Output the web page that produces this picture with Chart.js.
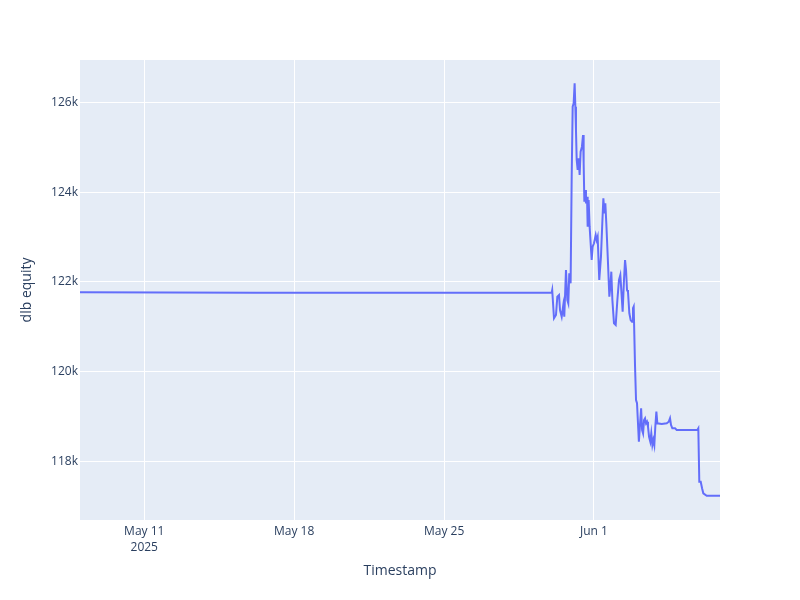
<!DOCTYPE html>
<html>
<head>
<meta charset="utf-8">
<script src="https://cdn.jsdelivr.net/npm/chart.js@4.4.1/dist/chart.umd.min.js"></script>
<style>
  html, body { margin: 0; padding: 0; background: #fff; }
  #wrap { width: 800px; height: 600px; }
</style>
</head>
<body>
<div id="wrap"><canvas id="c" width="800" height="600"></canvas></div>
<script>
// ---- data ----
const timestamps = [
  "2025-05-08T00:00Z", "2025-05-16T05:18Z", "2025-05-30T00:33Z", "2025-05-30T01:10Z",
  "2025-05-30T03:10Z", "2025-05-30T05:24Z", "2025-05-30T06:54Z", "2025-05-30T08:48Z",
  "2025-05-30T09:54Z", "2025-05-30T11:48Z", "2025-05-30T13:36Z", "2025-05-30T14:42Z",
  "2025-05-30T16:36Z", "2025-05-30T18:06Z", "2025-05-30T19:12Z", "2025-05-30T20:18Z",
  "2025-05-30T21:48Z", "2025-05-30T23:00Z", "2025-05-31T00:06Z", "2025-05-31T01:12Z",
  "2025-05-31T02:18Z", "2025-05-31T03:06Z", "2025-05-31T03:48Z", "2025-05-31T04:36Z",
  "2025-05-31T05:42Z", "2025-05-31T06:48Z", "2025-05-31T07:54Z", "2025-05-31T09:00Z",
  "2025-05-31T10:30Z", "2025-05-31T11:42Z", "2025-05-31T12:24Z", "2025-05-31T13:12Z",
  "2025-05-31T14:18Z", "2025-05-31T15:00Z", "2025-05-31T16:12Z", "2025-05-31T16:54Z",
  "2025-05-31T18:00Z", "2025-05-31T19:06Z", "2025-05-31T21:24Z", "2025-05-31T22:30Z",
  "2025-06-01T00:00Z", "2025-06-01T01:54Z", "2025-06-01T03:00Z", "2025-06-01T04:06Z",
  "2025-06-01T05:54Z", "2025-06-01T07:48Z", "2025-06-01T09:18Z", "2025-06-01T10:30Z",
  "2025-06-01T11:36Z", "2025-06-01T12:42Z", "2025-06-01T13:48Z", "2025-06-01T15:24Z",
  "2025-06-01T17:12Z", "2025-06-01T18:18Z", "2025-06-01T19:24Z", "2025-06-01T20:36Z",
  "2025-06-01T22:24Z", "2025-06-02T00:18Z", "2025-06-02T02:12Z", "2025-06-02T04:00Z",
  "2025-06-02T05:30Z", "2025-06-02T06:36Z", "2025-06-02T08:06Z", "2025-06-02T09:36Z",
  "2025-06-02T10:48Z", "2025-06-02T11:54Z", "2025-06-02T13:00Z", "2025-06-02T14:06Z",
  "2025-06-02T15:36Z", "2025-06-02T17:06Z", "2025-06-02T18:36Z", "2025-06-02T19:42Z",
  "2025-06-02T20:30Z", "2025-06-02T22:00Z", "2025-06-02T23:06Z", "2025-06-03T00:12Z",
  "2025-06-03T02:18Z", "2025-06-03T03:24Z", "2025-06-03T04:48Z", "2025-06-03T05:54Z",
  "2025-06-03T07:00Z", "2025-06-03T08:06Z", "2025-06-03T09:12Z", "2025-06-03T10:18Z",
  "2025-06-03T11:24Z", "2025-06-03T12:30Z", "2025-06-03T13:42Z", "2025-06-03T15:06Z",
  "2025-06-03T16:12Z", "2025-06-03T17:24Z", "2025-06-03T18:30Z", "2025-06-03T19:36Z",
  "2025-06-03T20:42Z", "2025-06-03T21:54Z", "2025-06-03T23:00Z", "2025-06-04T03:54Z",
  "2025-06-04T09:30Z", "2025-06-04T11:48Z", "2025-06-04T13:12Z", "2025-06-04T14:18Z",
  "2025-06-04T15:48Z", "2025-06-04T18:48Z", "2025-06-04T20:42Z", "2025-06-05T19:48Z",
  "2025-06-05T20:54Z", "2025-06-05T22:00Z", "2025-06-05T23:36Z", "2025-06-06T01:06Z",
  "2025-06-06T02:30Z", "2025-06-06T06:18Z", "2025-06-06T21:12Z"
];
const equity = [
  121770, 121760, 121760, 121820,
  121189, 121263, 121671, 121709,
  121375, 121226, 121486, 121226,
  122265, 121597, 121523, 122191,
  121968, 124344, 125903, 125977,
  126422, 125903, 125383, 124715,
  124492, 124752, 124381, 124901,
  125012, 125272, 124641, 123787,
  124047, 123750, 123898, 123230,
  123824, 123230, 122488, 122784,
  122860, 123045, 122934, 123008,
  122043, 122562, 123305, 123862,
  123528, 123751, 123305, 122562,
  121671, 121893, 122228, 121597,
  121078, 121040, 121597, 122043,
  122154, 121820, 121337, 122043,
  122488, 122265, 121820, 121775,
  121301, 121152, 121114, 121412,
  121449, 120112, 119370, 119297,
  118442, 118776, 119186, 118702,
  118628, 118925, 118963, 118851,
  118887, 118776, 118553, 118442,
  118628, 118368, 118480, 118368,
  118776, 119110, 118851, 118836,
  118851, 118887, 118963, 118814,
  118740, 118740, 118702, 118702,
  118740, 117551, 117551, 117404,
  117292, 117239, 117239
];
const xTickDates = ["2025-05-11T00:00Z", "2025-05-18T00:00Z", "2025-05-25T00:00Z", "2025-06-01T00:00Z"];
const xTickLabels = [["May 11", "2025"], "May 18", "May 25", "Jun 1"];
const yTickValues = [118000, 120000, 122000, 124000, 126000];
const yTickLabels = ["118k", "120k", "122k", "124k", "126k"];
const yRange = [116698, 126942];

// ---- chart ----
const points = timestamps.map((t, i) => ({ x: Date.parse(t), y: equity[i] }));
const xTickMs = xTickDates.map(d => Date.parse(d));
const FONT = '"Open Sans", "Noto Sans", Arial, sans-serif';
const TXT = '#2a3f5f';

const bgPlugin = {
  id: 'plotBg',
  beforeDraw(chart) {
    const { ctx, chartArea: a } = chart;
    ctx.save();
    ctx.fillStyle = '#E5ECF6';
    ctx.fillRect(a.left, a.top, a.right - a.left, a.bottom - a.top);
    ctx.restore();
  }
};

new Chart(document.getElementById('c'), {
  type: 'line',
  data: {
    datasets: [{
      data: points,
      borderColor: '#636efa',
      borderWidth: 2,
      pointRadius: 0,
      tension: 0,
      fill: false
    }]
  },
  options: {
    responsive: false,
    animation: false,
    layout: { padding: { top: 60, right: 80, left: 0, bottom: 0 } },
    plugins: { legend: { display: false }, tooltip: { enabled: false } },
    scales: {
      x: {
        type: 'linear',
        min: points[0].x,
        max: points[points.length - 1].x,
        afterBuildTicks(scale) { scale.ticks = xTickMs.map(v => ({ value: v })); },
        afterFit(scale) { scale.height = 80; },
        ticks: {
          autoSkip: false,
          maxRotation: 0,
          padding: 4,
          color: TXT,
          font: { family: FONT, size: 12, lineHeight: '16px' },
          callback(v) { const i = xTickMs.indexOf(v); return i >= 0 ? xTickLabels[i] : ''; }
        },
        grid: { color: '#ffffff', lineWidth: 1, drawTicks: false },
        border: { display: false },
        title: {
          display: true, text: 'Timestamp', color: TXT,
          font: { family: FONT, size: 14 }, padding: { top: 0, bottom: 21 }
        }
      },
      y: {
        type: 'linear',
        min: yRange[0],
        max: yRange[1],
        afterBuildTicks(scale) { scale.ticks = yTickValues.map(v => ({ value: v })); },
        afterFit(scale) { scale.width = 80; },
        ticks: {
          padding: 2,
          color: TXT,
          font: { family: FONT, size: 12 },
          callback(v) { const i = yTickValues.indexOf(v); return i >= 0 ? yTickLabels[i] : ''; }
        },
        grid: { color: '#ffffff', lineWidth: 1, drawTicks: false },
        border: { display: false },
        title: {
          display: true, text: 'dlb equity', color: TXT,
          font: { family: FONT, size: 14 }, padding: { top: 19, bottom: 0 }
        }
      }
    }
  },
  plugins: [bgPlugin]
});
</script>
</body>
</html>
